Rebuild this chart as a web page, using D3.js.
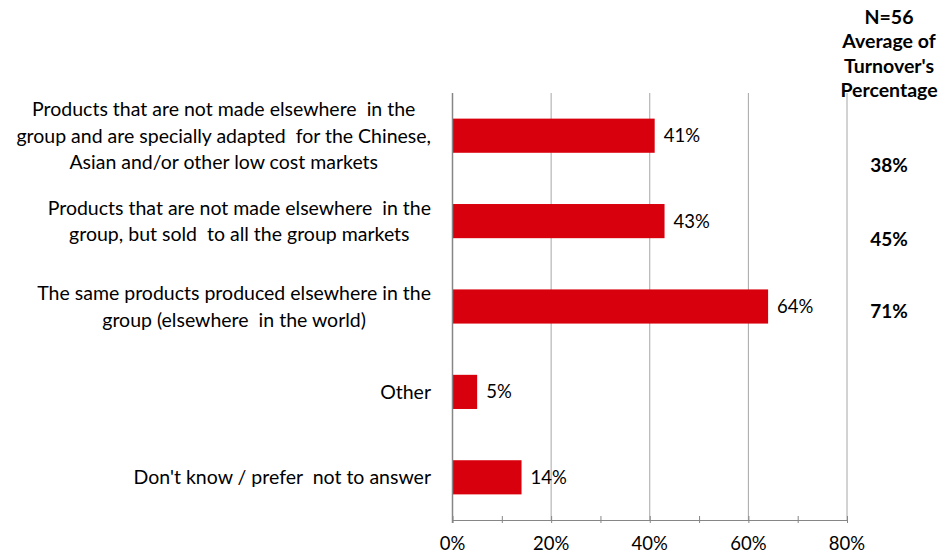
<!DOCTYPE html>
<html>
<head>
<meta charset="utf-8">
<script src="https://cdn.jsdelivr.net/npm/d3@7"></script>
<style>
  html, body { margin: 0; padding: 0; background: #fff; }
  svg { display: block; font-family: Lato, "Open Sans", sans-serif; }
</style>
</head>
<body>
<svg id="chart" width="945" height="553"></svg>
<script>
// Survey categories (one entry per bar, lines of the wrapped label)
const categories = [
  ["Products that are not made elsewhere  in the", "group and are specially adapted  for the Chinese,", "Asian and/or other low cost markets"],
  ["Products that are not made elsewhere  in the", "group, but sold  to all the group markets"],
  ["The same products produced elsewhere in the", "group (elsewhere  in the world)"],
  ["Other"],
  ["Don't know / prefer  not to answer"]
];
// Share of respondents (%)
const shares = [41, 43, 64, 5, 14];
// Average of turnover's percentage (%), only for the first three categories
const turnover = [38, 45, 71, null, null];
const xTicks = [0, 20, 40, 60, 80];
const headerLines = ["N=56", "Average of", "Turnover's", "Percentage"];

const svg = d3.select("#chart");
const plotLeft = 452.5, plotRight = 847, plotTop = 93, plotBottom = 520;

const x = d3.scaleLinear().domain([0, 80]).range([plotLeft, plotRight]);
const y = d3.scaleBand().domain(d3.range(categories.length)).range([plotTop, plotBottom]).paddingInner(0.6).paddingOuter(0.3);

// vertical gridlines
svg.append("g").selectAll("line").data(xTicks.slice(1)).join("line")
  .attr("x1", d => x(d)).attr("x2", d => x(d))
  .attr("y1", plotTop).attr("y2", plotBottom)
  .attr("stroke", "#a6a6a6").attr("stroke-width", 1);

// bars
svg.append("g").selectAll("rect").data(shares).join("rect")
  .attr("x", x(0))
  .attr("y", (d, i) => y(i))
  .attr("width", d => x(d) - x(0))
  .attr("height", y.bandwidth())
  .attr("fill", "#d9000d");

// value labels
svg.append("g").selectAll("text").data(shares).join("text")
  .attr("x", d => x(d) + 9)
  .attr("y", (d, i) => y(i) + y.bandwidth() / 2)
  .attr("dy", "0.35em")
  .attr("font-size", 18.5)
  .attr("fill", "#000")
  .text(d => d + "%");

// x axis
const axis = d3.axisBottom(x).tickValues(d3.range(0, 81, 10)).tickSize(0).tickFormat("");
const gx = svg.append("g").attr("transform", `translate(0,${plotBottom})`).call(axis);
gx.select(".domain").attr("stroke", "#868686");
gx.selectAll(".tick line").attr("y1", -4).attr("y2", 3).attr("stroke", "#868686");
svg.append("g").selectAll("text").data(xTicks).join("text")
  .attr("x", d => x(d))
  .attr("y", 550)
  .attr("text-anchor", "middle")
  .attr("font-size", 18.5)
  .text(d => d + "%");

// y axis line
svg.append("line")
  .attr("x1", x(0)).attr("x2", x(0))
  .attr("y1", plotTop).attr("y2", plotBottom + 3)
  .attr("stroke", "#868686").attr("stroke-width", 1.5);

// category labels: centred block, right edge aligned next to the axis
const lineH = 26.5;
categories.forEach((lines, i) => {
  const g = svg.append("g");
  const cy = y(i) + y.bandwidth() / 2;
  const texts = g.selectAll("text").data(lines).join("text")
    .attr("font-size", 19.5)
    .attr("y", (d, j) => cy + (j - (lines.length - 1) / 2) * lineH)
    .attr("dy", "0.35em")
    .attr("text-anchor", "middle")
    .style("white-space", "pre")
    .text(d => d);
  let maxW = 0;
  texts.each(function () { maxW = Math.max(maxW, this.getComputedTextLength()); });
  texts.attr("x", 431 - maxW / 2);
});

// right-hand header and averages
svg.append("g").selectAll("text").data(headerLines).join("text")
  .attr("x", 889)
  .attr("y", (d, i) => 17 + i * 24.5)
  .attr("dy", "0.35em")
  .attr("text-anchor", "middle")
  .attr("font-weight", "bold")
  .attr("font-size", 19.5)
  .text(d => d);

svg.append("g").selectAll("text").data(turnover.map((v, i) => ({ v, i })).filter(d => d.v != null)).join("text")
  .attr("x", 889)
  .attr("y", d => [165, 239, 311][d.i])
  .attr("dy", "0.35em")
  .attr("text-anchor", "middle")
  .attr("font-weight", "bold")
  .attr("font-size", 19)
  .text(d => d.v + "%");
</script>
</body>
</html>
